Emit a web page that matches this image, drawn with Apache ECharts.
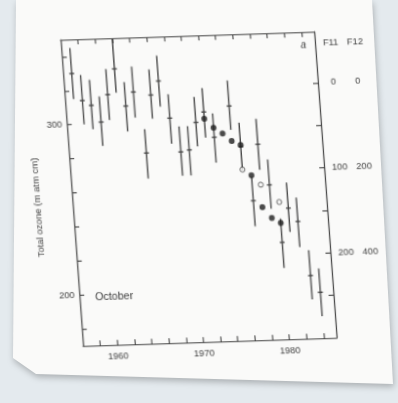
<!DOCTYPE html>
<html>
<head>
<meta charset="utf-8">
<script src="https://cdn.jsdelivr.net/npm/echarts@6/dist/echarts.min.js"></script>
<style>
  html, body { margin: 0; padding: 0; background: #e4eaee; overflow: hidden; }
  #sheet { position: absolute; left: 0; top: 0; width: 398px; height: 403px; filter: drop-shadow(1px 3px 3px rgba(0,0,0,0.25)); }
  #paper { position: absolute; left: 0; top: 0; width: 398px; height: 403px; background: #fafaf9;
    clip-path: polygon(16px 0, 372px 0, 393px 384px, 36px 374px, 13px 358px); }
  #chart { position: absolute; left: 0; top: 0; width: 398px; height: 403px; transform-origin: 0 0; }
</style>
</head>
<body>
<div id="sheet"><div id="paper"></div></div>
<div id="chart"></div>
<script>
// Halley Bay, October total ozone (m atm cm): range bars with the mean marked
const years = [1957, 1958, 1959, 1960, 1961, 1962, 1963, 1964, 1965, 1966, 1967, 1968, 1969, 1970,
  1971, 1972, 1973, 1975, 1976, 1977, 1978, 1979, 1980, 1981, 1982, 1983, 1984]
const ozoneMean = [330, 314, 311, 301, 317, 332, 310, 318, 282, 316, 324, 302, 282, 283,
  299, 305, 290, 308, 284, 252, 285, 261, 227, 247, 239, 207, 197]
const ozoneLow = [315, 300, 297, 287, 302, 318, 295, 303, 267, 302, 309, 287, 268, 268,
  285, 290, 275, 294, 270, 237, 270, 247, 212, 233, 224, 193, 183]
const ozoneHigh = [345, 329, 326, 316, 332, 350, 324, 333, 296, 331, 339, 316, 297, 297,
  314, 319, 304, 323, 298, 266, 300, 276, 241, 262, 253, 222, 211]

// F11 (filled dots) and F12 (open circles), pptv, inverted scales on the right
const f11Years = [1972, 1973, 1974, 1975, 1976, 1977, 1978, 1979, 1980]
const f11Values = [38, 49, 56, 65, 70, 106, 144, 157, 163]
const f12Years = [1976, 1978, 1980]
const f12Values = [198, 235, 277]

// ticks and labels
const yearTicks = [1958, 1960, 1962, 1964, 1966, 1968, 1970, 1972, 1974, 1976, 1978, 1980, 1982, 1984]
const yearLabels = [1960, 1970, 1980]
const ozoneTicks = [180, 200, 220, 240, 260, 280, 300, 320, 340]
const ozoneLabels = [200, 300]
const f11Ticks = [0, 50, 100, 150, 200, 250]
const f11Labels = [0, 100, 200]
const f12Labels = [0, 200, 400]

// the sheet is photographed at a slant: fit an affine map from the flat plot box
// (left 70, top 40, 260 x 305) onto the plot corners seen in the photo
const box = { x: 70, y: 40, w: 260, h: 305 }
const photo = { tl: [63, 37.5], tr: [311.7, 34], bl: [80.7, 348.3], br: [339, 335.5] }

function fitAffine(b, q) {
  const ax = [(q.tr[0] - q.tl[0] + q.br[0] - q.bl[0]) / 2, (q.tr[1] - q.tl[1] + q.br[1] - q.bl[1]) / 2]
  const ay = [(q.bl[0] - q.tl[0] + q.br[0] - q.tr[0]) / 2, (q.bl[1] - q.tl[1] + q.br[1] - q.tr[1]) / 2]
  const cx = (q.tl[0] + q.tr[0] + q.bl[0] + q.br[0]) / 4
  const cy = (q.tl[1] + q.tr[1] + q.bl[1] + q.br[1]) / 4
  const a = ax[0] / b.w, bb = ax[1] / b.w, c = ay[0] / b.h, d = ay[1] / b.h
  const mx = b.x + b.w / 2, my = b.y + b.h / 2
  const e = cx - a * mx - c * my
  const f = cy - bb * mx - d * my
  return [a, bb, c, d, e, f]
}

const el = document.getElementById('chart')
el.style.transform = 'matrix(' + fitAffine(box, photo).join(',') + ')'

const ink = '#404040'
const font = 'Liberation Sans'

const chart = echarts.init(el)

function renderBar(params, api) {
  const x = api.value(0)
  const lo = api.coord([x, api.value(1)])
  const mid = api.coord([x, api.value(2)])
  const hi = api.coord([x, api.value(3)])
  const style = { stroke: '#454545', lineWidth: 1.4 }
  return {
    type: 'group',
    children: [
      { type: 'line', shape: { x1: lo[0], y1: lo[1], x2: hi[0], y2: hi[1] }, style: style },
      { type: 'line', shape: { x1: mid[0] - 2.5, y1: mid[1], x2: mid[0] + 2.5, y2: mid[1] }, style: style }
    ]
  }
}

const axisLine = { onZero: false, lineStyle: { color: ink, width: 1.2 } }
const tick = { inside: true, length: 5, lineStyle: { color: ink, width: 1.1 } }

const option = {
  animation: false,
  backgroundColor: 'transparent',
  textStyle: { fontFamily: font, color: ink },
  grid: { left: box.x, top: box.y, right: 398 - box.x - box.w, bottom: 403 - box.y - box.h },
  xAxis: [
    {
      type: 'value', min: 1956, max: 1985.5, position: 'bottom',
      axisLine: axisLine,
      axisTick: Object.assign({ customValues: yearTicks }, tick),
      axisLabel: {
        customValues: yearLabels, fontSize: 9.5, color: ink, margin: 6, fontFamily: font,
        formatter: v => String(v)
      },
      splitLine: { show: false }
    },
    {
      type: 'value', min: 1956, max: 1985.5, position: 'top',
      axisLine: axisLine,
      axisTick: Object.assign({ customValues: yearTicks }, tick),
      axisLabel: { show: false },
      splitLine: { show: false }
    }
  ],
  yAxis: [
    {
      type: 'value', min: 170, max: 350, position: 'left',
      axisLine: axisLine,
      axisTick: Object.assign({ customValues: ozoneTicks }, tick),
      axisLabel: { customValues: ozoneLabels, fontSize: 9.5, color: ink, margin: 5, fontFamily: font },
      splitLine: { show: false }
    },
    {
      type: 'value', min: -60, max: 300, inverse: true, position: 'right',
      axisLine: axisLine,
      axisTick: Object.assign({ customValues: f11Ticks }, tick),
      axisLabel: {
        customValues: f11Labels, margin: 2, fontSize: 9.5, color: ink, fontFamily: font,
        formatter: function(v) {
          return '{a|' + v + '}{b|' + f12Labels[f11Labels.indexOf(v)] + '}'
        },
        rich: {
          a: { width: 28, align: 'center', fontSize: 9.5, fontFamily: font, color: ink },
          b: { width: 22, align: 'center', fontSize: 9.5, fontFamily: font, color: ink }
        }
      },
      splitLine: { show: false }
    },
    {
      type: 'value', min: -120, max: 600, inverse: true, show: false
    }
  ],
  graphic: [
    { type: 'text', x: 34, y: 206, rotation: Math.PI / 2,
      style: { text: 'Total ozone (m atm cm)', fontSize: 9.5, fontFamily: font, fill: ink, align: 'center', verticalAlign: 'middle' } },
    { type: 'text', x: 346, y: 51,
      style: { text: 'F11', fontSize: 9.5, fontFamily: font, fill: ink, align: 'center', verticalAlign: 'middle' } },
    { type: 'text', x: 371, y: 51,
      style: { text: 'F12', fontSize: 9.5, fontFamily: font, fill: ink, align: 'center', verticalAlign: 'middle' } },
    { type: 'text', x: 318, y: 53,
      style: { text: 'a', fontSize: 10, fontStyle: 'italic', fontFamily: font, fill: ink, align: 'center', verticalAlign: 'middle' } },
    { type: 'text', x: 86, y: 297,
      style: { text: 'October', fontSize: 11, fontFamily: font, fill: ink, align: 'left', verticalAlign: 'middle' } }
  ],
  series: [
    {
      name: 'Ozone',
      type: 'custom',
      xAxisIndex: 0,
      yAxisIndex: 0,
      renderItem: renderBar,
      encode: { x: 0, y: [1, 2, 3] },
      data: years.map((y, i) => [y, ozoneLow[i], ozoneMean[i], ozoneHigh[i]])
    },
    {
      name: 'F11',
      type: 'scatter',
      yAxisIndex: 1,
      symbol: 'circle',
      symbolSize: 6,
      itemStyle: { color: '#1e1e1e' },
      data: f11Years.map((y, i) => [y, f11Values[i]])
    },
    {
      name: 'F12',
      type: 'scatter',
      yAxisIndex: 2,
      symbol: 'circle',
      symbolSize: 5,
      itemStyle: { color: '#fafaf9', borderColor: ink, borderWidth: 1 },
      z: 3,
      data: f12Years.map((y, i) => [y, f12Values[i]])
    }
  ]
}

chart.setOption(option)
</script>
</body>
</html>
